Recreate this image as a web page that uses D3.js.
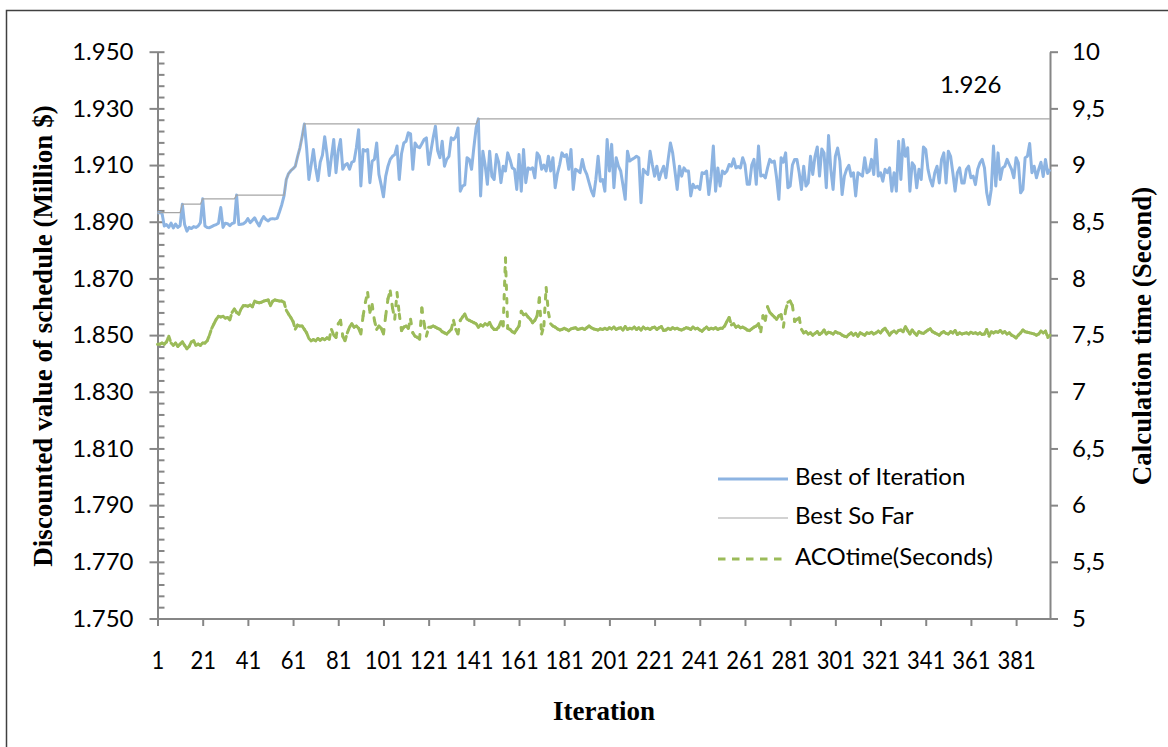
<!DOCTYPE html>
<html lang="en">
<head>
<meta charset="UTF-8">
<title>ACO convergence</title>
<script src="https://d3js.org/d3.v7.min.js"></script>
<style>
    body { margin: 0; background: #fff; }
    svg { display: block; }
    text { font-family: Lato, "Open Sans", sans-serif; fill: #000; }
    .title { font-family: "Liberation Serif", "Times New Roman", serif; font-weight: bold; font-size: 27px; }
</style>
</head>
<body>
<svg id="chart" width="1168" height="747"></svg>
<script>
// Best of Iteration (million $), one value per iteration 1..396
const bestOfIteration = [
    1.8932,1.8932,1.8930,1.8885,1.8890,1.8880,1.8895,1.8878,1.8892,1.8880,
    1.8886,1.8962,1.8890,1.8867,1.8880,1.8876,1.8883,1.8880,1.8885,1.8897,
    1.8981,1.8885,1.8880,1.8879,1.8883,1.8887,1.8890,1.8895,1.8950,1.8880,
    1.8895,1.8893,1.8886,1.8894,1.8896,1.8994,1.8890,1.8891,1.8893,1.8899,
    1.8911,1.8897,1.8905,1.8914,1.8898,1.8885,1.8905,1.8918,1.8908,1.8903,
    1.8910,1.8911,1.8910,1.8912,1.8935,1.8960,1.8991,1.9049,1.9070,1.9080,
    1.9087,1.9096,1.9130,1.9160,1.9200,1.9245,1.9160,1.9049,1.9100,1.9155,
    1.9090,1.9045,1.9110,1.9135,1.9200,1.9140,1.9063,1.9130,1.9190,1.9073,
    1.9150,1.9190,1.9085,1.9100,1.9105,1.9085,1.9110,1.9114,1.9160,1.9225,
    1.9026,1.9155,1.9150,1.9155,1.9038,1.9114,1.9120,1.9178,1.9067,1.9030,
    1.8988,1.9060,1.9096,1.9120,1.9131,1.9137,1.9167,1.9049,1.9140,1.9178,
    1.9184,1.9214,1.9210,1.9085,1.9178,1.9165,1.9161,1.9175,1.9190,1.9196,
    1.9102,1.9150,1.9196,1.9237,1.9150,1.9126,1.9184,1.9096,1.9120,1.9131,
    1.9196,1.9190,1.9200,1.9231,1.9008,1.9026,1.9030,1.9126,1.9120,1.9085,
    1.9161,1.9230,1.9263,1.8991,1.9149,1.9100,1.9032,1.9149,1.9060,1.9049,
    1.9137,1.9110,1.9038,1.9096,1.9079,1.9143,1.9120,1.9090,1.9085,1.9014,
    1.9137,1.9008,1.9155,1.9038,1.9090,1.9085,1.9090,1.9055,1.9143,1.9131,
    1.9085,1.9100,1.9079,1.9131,1.9079,1.9126,1.9020,1.9070,1.9102,1.9143,
    1.9130,1.9137,1.9085,1.9155,1.9014,1.9085,1.9080,1.9073,1.9120,1.9085,
    1.9067,1.9038,1.9010,1.8991,1.9049,1.9131,1.9043,1.9049,1.9008,1.9190,
    1.9079,1.9173,1.9020,1.9126,1.9096,1.9079,1.9030,1.8979,1.9149,1.9114,
    1.9120,1.9125,1.9131,1.9126,1.8967,1.9085,1.9075,1.9067,1.9149,1.9102,
    1.9061,1.9096,1.9049,1.9075,1.9096,1.9055,1.9120,1.9178,1.9143,1.9080,
    1.9014,1.9096,1.9061,1.9090,1.9079,1.9079,1.8991,1.9032,1.9020,1.9025,
    1.9014,1.9073,1.9070,1.9079,1.8996,1.9060,1.9167,1.9008,1.9090,1.9026,
    1.9079,1.9070,1.9079,1.9102,1.9096,1.9122,1.9090,1.9095,1.9090,1.9126,
    1.9102,1.9032,1.9032,1.9100,1.9120,1.9032,1.9167,1.9061,1.9065,1.9055,
    1.9090,1.9120,1.9110,1.9114,1.9055,1.8979,1.9126,1.9110,1.9143,1.9020,
    1.9026,1.9100,1.9120,1.9120,1.9073,1.9014,1.9096,1.9026,1.9037,1.9131,
    1.9067,1.9131,1.9164,1.9061,1.9157,1.9143,1.9020,1.9204,1.9085,1.9014,
    1.9131,1.9160,1.9114,1.8996,1.9061,1.9085,1.9099,1.9061,1.9073,1.8991,
    1.9073,1.9067,1.9061,1.9126,1.9073,1.9079,1.9120,1.9067,1.9190,1.9061,
    1.9073,1.9043,1.9085,1.9073,1.9090,1.9008,1.9073,1.9008,1.9184,1.9049,
    1.9190,1.9131,1.9161,1.9008,1.9108,1.9096,1.9020,1.9085,1.9049,1.9164,
    1.9155,1.9085,1.9049,1.9026,1.9073,1.9096,1.9037,1.9120,1.9143,1.9037,
    1.9149,1.9131,1.9073,1.9008,1.9073,1.9090,1.9037,1.9037,1.9085,1.9096,
    1.9055,1.9061,1.9031,1.9085,1.9108,1.9120,1.9090,1.9002,1.8961,1.9014,
    1.9167,1.9026,1.9143,1.9049,1.9090,1.9096,1.9120,1.9102,1.9085,1.9055,
    1.9126,1.9108,1.9002,1.9014,1.9126,1.9131,1.9176,1.9073,1.9096,1.9055,
    1.9085,1.9110,1.9060,1.9120,1.9070,1.9085
];

// Best So Far: the points where the step line changes
const bestSoFarIter = [1, 11, 12, 20, 21, 35, 36, 57, 58, 59, 60, 61, 62, 63, 64, 65, 66, 142, 143, 396];
const bestSoFarValue = [1.8932, 1.8932, 1.8962, 1.8962, 1.8981, 1.8981, 1.8994, 1.8994, 1.9049, 1.9070,
    1.9080, 1.9087, 1.9096, 1.9130, 1.9160, 1.9200, 1.9245, 1.9245, 1.9263, 1.9263];

// ACO calculation time (seconds), one value per iteration 1..396
const acoTime = [
    7.42,7.42,7.43,7.42,7.44,7.49,7.43,7.41,7.43,7.40,
    7.42,7.44,7.41,7.38,7.40,7.44,7.45,7.41,7.42,7.41,
    7.43,7.43,7.45,7.50,7.56,7.60,7.64,7.665,7.66,7.665,
    7.65,7.655,7.635,7.70,7.73,7.70,7.685,7.73,7.76,7.76,
    7.755,7.765,7.75,7.80,7.79,7.785,7.79,7.80,7.805,7.81,
    7.76,7.80,7.81,7.805,7.80,7.80,7.79,7.72,7.685,7.655,
    7.62,7.553,7.588,7.58,7.58,7.55,7.52,7.47,7.45,7.46,
    7.45,7.47,7.455,7.47,7.46,7.475,7.465,7.55,7.50,7.48,
    7.60,7.63,7.49,7.45,7.52,7.57,7.60,7.57,7.58,7.56,
    7.51,7.67,7.79,7.876,7.70,7.77,7.63,7.55,7.58,7.56,
    7.51,7.67,7.82,7.89,7.74,7.64,7.876,7.685,7.54,7.57,
    7.58,7.56,7.64,7.52,7.49,7.48,7.465,7.74,7.60,7.49,
    7.57,7.57,7.58,7.57,7.56,7.55,7.53,7.52,7.51,7.53,
    7.55,7.63,7.55,7.51,7.63,7.66,7.685,7.64,7.63,7.62,
    7.61,7.60,7.57,7.59,7.58,7.60,7.59,7.61,7.57,7.55,
    7.55,7.57,7.62,7.58,8.18,7.56,7.55,7.53,7.52,7.55,
    7.58,7.71,7.68,7.685,7.66,7.64,7.61,7.63,7.67,7.83,
    7.51,7.58,7.92,7.70,7.60,7.58,7.57,7.555,7.545,7.55,
    7.56,7.55,7.54,7.555,7.56,7.565,7.55,7.555,7.56,7.55,
    7.565,7.58,7.565,7.555,7.55,7.545,7.555,7.55,7.56,7.55,
    7.565,7.555,7.57,7.55,7.56,7.565,7.545,7.575,7.55,7.56,
    7.555,7.57,7.55,7.565,7.545,7.57,7.555,7.56,7.55,7.565,
    7.57,7.55,7.565,7.575,7.54,7.545,7.56,7.55,7.565,7.555,
    7.56,7.55,7.545,7.555,7.565,7.56,7.55,7.57,7.555,7.56,
    7.545,7.535,7.555,7.57,7.55,7.56,7.555,7.565,7.55,7.56,
    7.56,7.58,7.62,7.655,7.59,7.60,7.57,7.58,7.565,7.57,
    7.56,7.545,7.54,7.555,7.57,7.58,7.60,7.53,7.67,7.63,
    7.75,7.70,7.68,7.66,7.64,7.67,7.68,7.57,7.72,7.79,
    7.80,7.76,7.62,7.64,7.65,7.55,7.52,7.53,7.51,7.52,
    7.50,7.515,7.53,7.505,7.52,7.545,7.51,7.525,7.52,7.51,
    7.53,7.52,7.515,7.50,7.49,7.485,7.505,7.52,7.50,7.515,
    7.49,7.52,7.51,7.50,7.52,7.515,7.525,7.51,7.52,7.535,
    7.52,7.545,7.56,7.53,7.50,7.525,7.535,7.52,7.54,7.545,
    7.53,7.575,7.54,7.51,7.545,7.52,7.50,7.53,7.52,7.515,
    7.53,7.545,7.555,7.53,7.52,7.51,7.50,7.52,7.53,7.515,
    7.51,7.53,7.52,7.54,7.505,7.52,7.51,7.515,7.52,7.51,
    7.525,7.515,7.52,7.51,7.52,7.505,7.51,7.55,7.49,7.53,
    7.52,7.53,7.525,7.54,7.52,7.53,7.51,7.52,7.50,7.49,
    7.475,7.50,7.52,7.545,7.53,7.525,7.52,7.515,7.51,7.50,
    7.51,7.535,7.52,7.535,7.48,7.50
];

const xTickValues = [1, 21, 41, 61, 81, 101, 121, 141, 161, 181, 201, 221, 241, 261, 281, 301, 321, 341, 361, 381];
const leftTickValues = [1.75, 1.77, 1.79, 1.81, 1.83, 1.85, 1.87, 1.89, 1.91, 1.93, 1.95];
const rightTickValues = [5, 5.5, 6, 6.5, 7, 7.5, 8, 8.5, 9, 9.5, 10];
const rightTickLabels = ["5", "5,5", "6", "6,5", "7", "7,5", "8", "8,5", "9", "9,5", "10"];
const seriesNames = ["Best of Iteration", "Best So Far", "ACOtime(Seconds)"];

const blue = "#8db4e2", grey = "#a6a6a6", green = "#9bbb59", axisGrey = "#868686";

const svg = d3.select("#chart");

// outer frame
svg.append("rect")
    .attr("x", 6.5).attr("y", 10.5)
    .attr("width", 1300).attr("height", 900)
    .attr("fill", "#fff").attr("stroke", "#404040").attr("stroke-width", 1.5);

const x = d3.scaleLinear().domain([1, bestOfIteration.length]).range([157.5, 1050]);
const yLeft = d3.scaleLinear().domain([1.75, 1.95]).range([618.5, 51.7]);
const yRight = d3.scaleLinear().domain([5, 10]).range([618.5, 51.7]);

// minor ticks on the left axis (inside)
const minorTicks = d3.range(1.754, 1.95, 0.004).filter(v => Math.abs((v - 1.75) / 0.02 - Math.round((v - 1.75) / 0.02)) > 0.01);
const minorAxis = svg.append("g")
    .attr("transform", "translate(157.5,0)")
    .call(d3.axisRight(yLeft).tickValues(minorTicks).tickSize(7).tickSizeOuter(0).tickFormat(""));
minorAxis.select(".domain").remove();

const leftAxis = svg.append("g")
    .attr("transform", "translate(157.5,0)")
    .call(d3.axisLeft(yLeft).tickValues(leftTickValues).tickSize(8).tickSizeOuter(0)
        .tickPadding(16).tickFormat(d3.format(".3f")));
leftAxis.selectAll(".tick line").attr("x1", 7);

const rightAxis = svg.append("g")
    .attr("transform", "translate(1050,0)")
    .call(d3.axisRight(yRight).tickValues(rightTickValues).tickSize(8).tickSizeOuter(0)
        .tickPadding(14).tickFormat((d, i) => rightTickLabels[i]));

const bottomAxis = svg.append("g")
    .attr("transform", "translate(0,618.5)")
    .call(d3.axisBottom(x).tickValues(xTickValues).tickSize(7.5).tickSizeOuter(0)
        .tickPadding(25).tickFormat(d3.format("d")));

[minorAxis, leftAxis, rightAxis, bottomAxis].forEach(g => {
    g.attr("font-family", null).attr("font-size", null);
    g.selectAll("line, path").attr("stroke", axisGrey).attr("stroke-width", 2);
    g.selectAll("text").attr("font-size", "24px");
});
// the category labels are a bit narrower and taller in the original
bottomAxis.selectAll("text").attr("font-size", "25px").attr("transform", "scale(0.88,1)");

// series
const blueLine = d3.line().x((d, i) => x(i + 1)).y(d => yLeft(d));
svg.append("path")
    .datum(bestOfIteration)
    .attr("d", blueLine)
    .attr("fill", "none").attr("stroke", blue).attr("stroke-width", 3)
    .attr("stroke-linejoin", "round");

const stepLine = d3.line().x((d, i) => x(bestSoFarIter[i])).y(d => yLeft(d));
svg.append("path")
    .datum(bestSoFarValue)
    .attr("d", stepLine)
    .attr("fill", "none").attr("stroke", grey).attr("stroke-width", 1.2);

// dashed green, dash pattern restarts on every segment
const greenPts = acoTime.map((v, i) => [x(i + 1), yRight(v)]);
svg.append("g").selectAll("line")
    .data(d3.pairs(greenPts))
    .join("line")
    .attr("x1", d => d[0][0]).attr("y1", d => d[0][1])
    .attr("x2", d => d[1][0]).attr("y2", d => d[1][1])
    .attr("stroke", green).attr("stroke-width", 3)
    .attr("stroke-linecap", "round")
    .attr("stroke-dasharray", "4.5,9");

// data label
svg.append("text")
    .attr("x", 940).attr("y", 93)
    .attr("font-size", "24px")
    .text(d3.format(".3f")(bestSoFarValue[bestSoFarValue.length - 1]));

// legend
const legend = svg.append("g");
const legendY = [479, 518, 559];
legend.append("line")
    .attr("x1", 718).attr("x2", 788).attr("y1", legendY[0]).attr("y2", legendY[0])
    .attr("stroke", blue).attr("stroke-width", 3);
legend.append("line")
    .attr("x1", 718).attr("x2", 788).attr("y1", legendY[1]).attr("y2", legendY[1])
    .attr("stroke", grey).attr("stroke-width", 1.2);
legend.append("line")
    .attr("x1", 718).attr("x2", 788).attr("y1", legendY[2]).attr("y2", legendY[2])
    .attr("stroke", green).attr("stroke-width", 3)
    .attr("stroke-dasharray", "7.5,6.5");
legend.selectAll("text")
    .data(seriesNames)
    .join("text")
    .attr("x", 795)
    .attr("y", (d, i) => legendY[i] + 6)
    .attr("font-size", "24px")
    .text(d => d);

// axis titles
svg.append("text")
    .attr("class", "title")
    .attr("transform", "translate(52,336) rotate(-90)")
    .attr("text-anchor", "middle")
    .text("Discounted value of schedule (Million $)");
svg.append("text")
    .attr("class", "title")
    .attr("transform", "translate(1151,336) rotate(-90)")
    .attr("text-anchor", "middle")
    .text("Calculation time (Second)");
svg.append("text")
    .attr("class", "title")
    .attr("x", 604).attr("y", 720)
    .attr("text-anchor", "middle")
    .text("Iteration");
</script>
</body>
</html>
